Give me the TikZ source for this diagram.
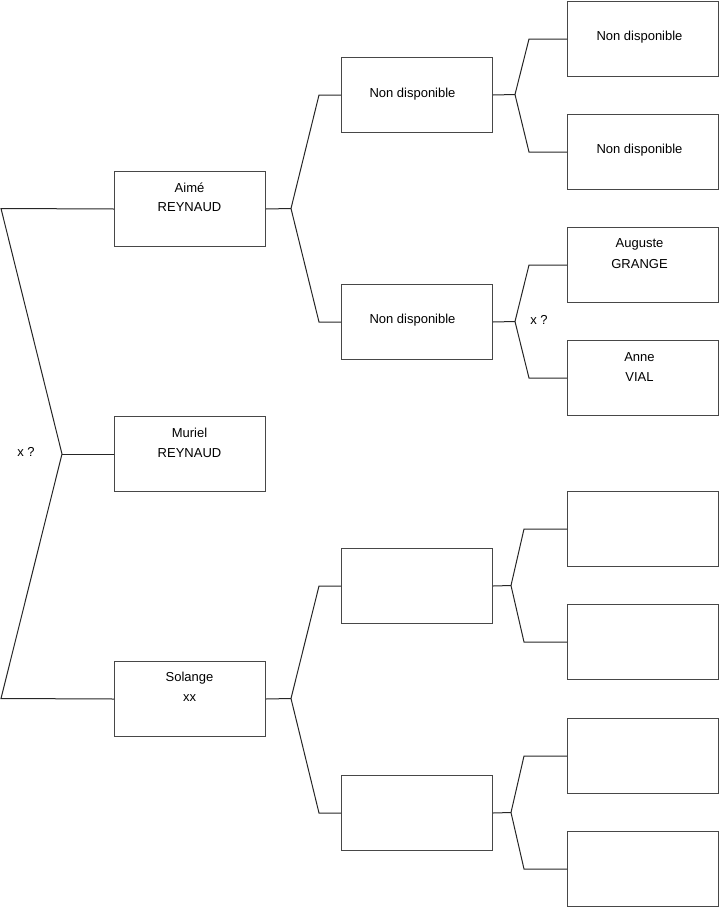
\documentclass[tikz,border=0pt]{standalone}
\usepackage{fontspec}
\setmainfont{Liberation Sans}
\begin{document}
\begin{tikzpicture}[x=1pt,y=-1pt,
  box/.style={draw=black!72, line width=1pt, minimum width=151pt, minimum height=75pt, inner sep=0pt, anchor=north west},
  lbl/.style={font=\fontsize{13}{15}\selectfont, inner sep=0pt},
  wire/.style={draw=black!85, line width=1pt}]
\useasboundingbox (0,0) rectangle (719,908);
% column 1
\node[box] (aime) at (114,171) {};
\node[box] (muriel) at (114,416) {};
\node[box] (solange) at (114,661) {};
% column 2
\node[box] (ndA) at (341,57) {};
\node[box] (ndB) at (341,284) {};
\node[box] (eC) at (341,548) {};
\node[box] (eD) at (341,775) {};
% column 3
\node[box] (ndA1) at (567,1) {};
\node[box] (ndA2) at (567,114) {};
\node[box] (aug) at (567,227) {};
\node[box] (anne) at (567,340) {};
\node[box] (eC1) at (567,491) {};
\node[box] (eC2) at (567,604) {};
\node[box] (eD1) at (567,718) {};
\node[box] (eD2) at (567,831) {};
% texts
\node[lbl] (t1) at (189.5,188) {Aimé};
\node[lbl] (t2) at (189.5,207) {REYNAUD};
\node[lbl] (t3) at (189.5,433) {Muriel};
\node[lbl] (t4) at (189.5,453) {REYNAUD};
\node[lbl] (t5) at (189.5,678) {Solange};
\node[lbl] (t6) at (189.5,698) {xx};
\node[lbl] (t7) at (412.5,94) {Non disponible};
\node[lbl] (t8) at (412.5,320) {Non disponible};
\node[lbl] (t9) at (639.5,37) {Non disponible};
\node[lbl] (t10) at (639.5,150) {Non disponible};
\node[lbl] (t11) at (639.5,244) {Auguste};
\node[lbl] (t12) at (639.5,264) {GRANGE};
\node[lbl] (t13) at (639.5,357) {Anne};
\node[lbl] (t14) at (639.5,377) {VIAL};
\node[lbl] (x1) at (26,452) {x ?};
\node[lbl] (x2) at (539,320) {x ?};
% junction x positions
\coordinate (b1) at (319,0);
\coordinate (b2) at (529,0);
\coordinate (b3) at (524,0);
% left bracket
\coordinate (jL) at (62,454);
\coordinate (lt) at (1,208.5);
\coordinate (lb) at (1,698.5);
\draw[wire] (aime.west) -- (lt) -- (jL) -- (lb) -- (solange.west);
\draw[wire] (jL) -- (muriel.west);
% Aime
\coordinate (jA) at (291,208.5);
\draw[wire] (aime.east) -- (jA);
\draw[wire] (ndA.west) -- (ndA.west -| b1) -- (jA) -- (ndB.west -| b1) -- (ndB.west);
% Solange
\coordinate (jS) at (291,698.5);
\draw[wire] (solange.east) -- (jS);
\draw[wire] (eC.west) -- (eC.west -| b1) -- (jS) -- (eD.west -| b1) -- (eD.west);
% ndA
\coordinate (jNA) at (515,94.5);
\draw[wire] (ndA.east) -- (jNA);
\draw[wire] (ndA1.west) -- (ndA1.west -| b2) -- (jNA) -- (ndA2.west -| b2) -- (ndA2.west);
% ndB
\coordinate (jNB) at (515,321.5);
\draw[wire] (ndB.east) -- (jNB);
\draw[wire] (aug.west) -- (aug.west -| b2) -- (jNB) -- (anne.west -| b2) -- (anne.west);
% eC
\coordinate (jC) at (511,585.5);
\draw[wire] (eC.east) -- (jC);
\draw[wire] (eC1.west) -- (eC1.west -| b3) -- (jC) -- (eC2.west -| b3) -- (eC2.west);
% eD
\coordinate (jD) at (511,812.5);
\draw[wire] (eD.east) -- (jD);
\draw[wire] (eD1.west) -- (eD1.west -| b3) -- (jD) -- (eD2.west -| b3) -- (eD2.west);
\end{tikzpicture}
\end{document}
